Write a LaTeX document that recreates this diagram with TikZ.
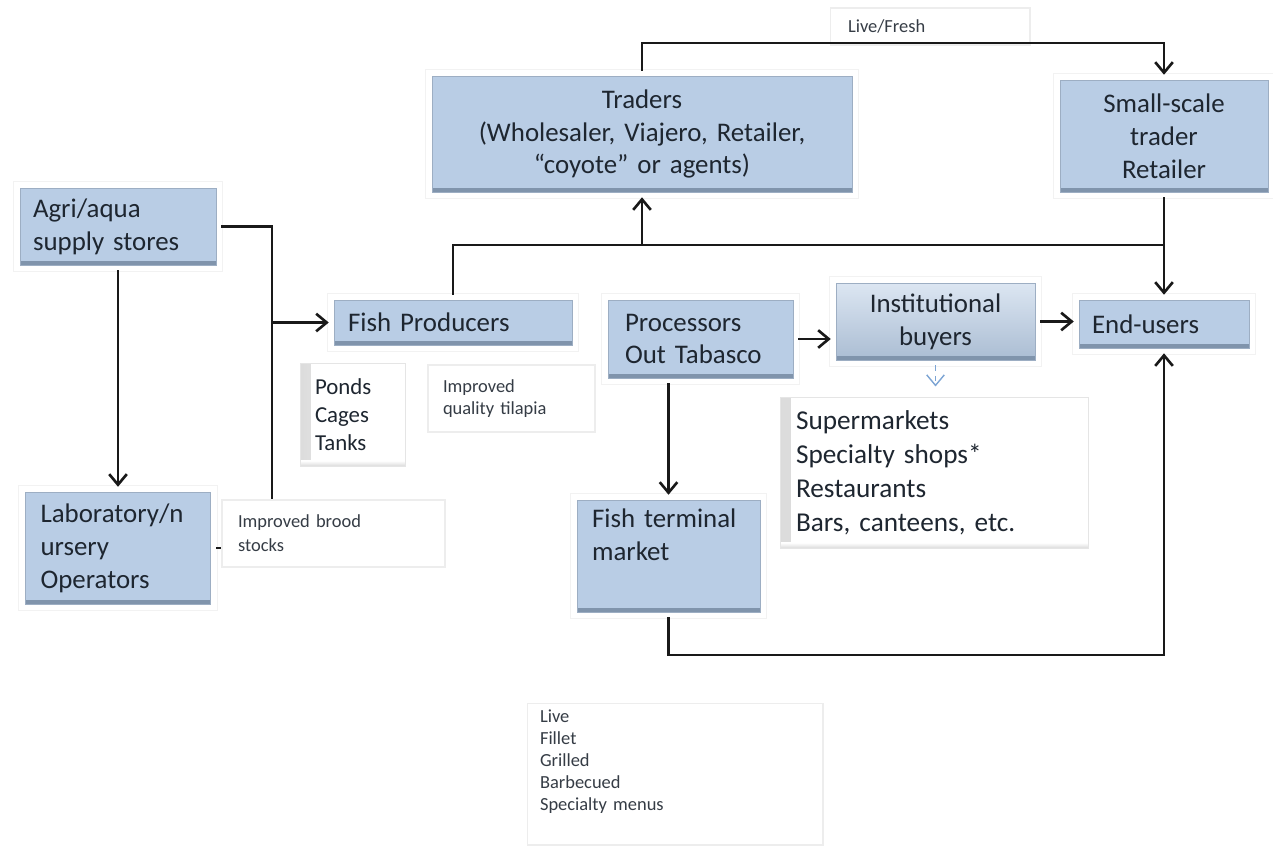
\documentclass[tikz,border=0pt]{standalone}
\usepackage{fontspec}
\setmainfont{Carlito}
\usetikzlibrary{calc,arrows.meta,positioning}
\definecolor{boxblue}{RGB}{185,205,229}
\definecolor{boxedge}{RGB}{128,148,172}
\definecolor{boxtext}{RGB}{30,38,48}
\definecolor{linkgray}{RGB}{25,25,25}
\definecolor{tipblue}{RGB}{125,165,212}
\tikzset{
  chainbox/.style={fill=boxblue, draw=boxblue!85!black, line width=0.3pt, text=boxtext,
    font=\fontsize{15.3}{18.7}\selectfont, inner ysep=0pt, outer sep=3pt,
    preaction={draw=black!5, line width=8.5pt},
    preaction={draw=white, line width=7pt},
    path picture={\fill[boxedge] ([yshift=2.2pt]path picture bounding box.south west) rectangle (path picture bounding box.south east);}},
  bevelbox/.style={chainbox, top color=boxblue!50!white, bottom color=boxblue!92!black},
  sidebox/.style={fill=white, draw=black!10, line width=0.4pt, text=boxtext, inner ysep=0pt, outer sep=3pt,
    path picture={\shade[left color=black!14, right color=white] (path picture bounding box.south west) rectangle ([xshift=6pt]path picture bounding box.north west);
      \shade[bottom color=black!14, top color=white] (path picture bounding box.south west) rectangle ([yshift=3pt]path picture bounding box.south east);}},
  notebox/.style={fill=white, draw=black!7, line width=0.6pt, text=boxtext!90!white, inner ysep=0pt,
    font=\fontsize{10.5}{13}\selectfont},
  link/.style={draw=linkgray, line width=1.5pt},
  tiplink/.style={draw=tipblue, line width=0.8pt, dashed, shorten >=3pt},
}

\begin{document}
\begin{tikzpicture}[x=0.02cm,y=-0.02cm,>={Straight Barb[length=6pt,width=10pt]}]
\useasboundingbox (0,0) rectangle (1273,846);

% boxes of the chain
\node[notebox, align=left, text width=3.28cm, inner xsep=0.36cm, minimum width=4cm, minimum height=0.74cm] (livefresh) at (930,26.5) {Live/Fresh};
\node[chainbox, align=center, text width=7.6cm, minimum width=8.4cm, minimum height=2.32cm] (traders) at (642,134) {Traders\\(Wholesaler, Viajero, Retailer,\\“coyote” or agents)};
\node[chainbox, align=center, text width=3.6cm, minimum width=4.16cm, minimum height=2.24cm] (small) at (1164,136) {Small-scale\\trader\\Retailer};
\node[chainbox, align=left, text width=3.4cm, inner xsep=0.26cm, minimum width=3.92cm, minimum height=1.54cm] (agri) at (118,226.5) {Agri/aqua\\supply stores};
\node[chainbox, align=left, text width=4.2cm, inner xsep=0.28cm, minimum width=4.76cm, minimum height=0.9cm] (fishprod) at (453,322.5) {Fish Producers};
\node[chainbox, align=left, text width=3.02cm, inner xsep=0.34cm, minimum width=3.7cm, minimum height=1.56cm] (proc) at (700.5,339) {Processors\\Out Tabasco};
\node[bevelbox, align=center, text width=3.4cm, minimum width=3.98cm, minimum height=1.54cm] (inst) at (935.5,321.5) {Institutional\\buyers};
\node[chainbox, align=left, text width=2.88cm, inner xsep=0.26cm, minimum width=3.4cm, minimum height=0.96cm] (endu) at (1164,324) {End-users};
\node[chainbox, align=left, text width=3.1cm, inner xsep=0.3cm, minimum width=3.7cm, minimum height=2.24cm] (lab) at (118,548) {Laboratory/n\\ursery\\Operators};
\node[chainbox, align=left, text width=3.06cm, inner xsep=0.3cm, minimum width=3.66cm, minimum height=2.24cm] (fishterm) at (668.5,556) {Fish terminal\\market\\ \strut};

% side notes
\node[sidebox, align=left, text width=1.5cm, inner xsep=0.3cm, minimum width=2.1cm, minimum height=2.06cm, font=\fontsize{13}{15.9}\selectfont] (ponds) at (352.5,414.5) {Ponds\\Cages\\Tanks};
\node[notebox, align=left, text width=2.74cm, inner xsep=0.3cm, minimum width=3.34cm, minimum height=1.34cm] (tilapia) at (511.5,398.5) {Improved\\quality tilapia};
\node[sidebox, align=left, text width=5.52cm, inner xsep=0.32cm, minimum width=6.16cm, minimum height=3.02cm, font=\fontsize{15.5}{19.3}\selectfont] (outlets) at (934,472.5) {Supermarkets\\Specialty shops*\\Restaurants\\Bars, canteens, etc.};
\node[notebox, align=left, text width=5.4cm, inner xsep=0.26cm, minimum width=5.92cm, minimum height=2.84cm, font=\fontsize{10.5}{12.5}\selectfont] (products) at (675,774) {Live\\Fillet\\Grilled\\Barbecued\\Specialty menus\\ \strut};

% connectors
\coordinate (fresh) at (1164,43);
\draw[link,->] (traders.north) |- (fresh) -- (small.north);
\coordinate (hub) at (642,245);
\coordinate (junc) at (1164,245);
\draw[link] (fishprod.north) |- (junc);
\draw[link,->] (hub) -- (traders.south);
\draw[link,->] (small.south) -- (endu.north);

\coordinate (railtop) at (272,226.5);
\coordinate (railbot) at (272,548);
\draw[link] (agri.east) -- (railtop) -- (railbot) -- (lab.east);
\draw[link,->] (railtop |- fishprod.west) -- (fishprod.west);
\draw[link,->] (agri.south) -- (lab.north);

\draw[link,->] (proc.east) -- (proc.east -| inst.west);
\draw[link,->] (inst.east) -- (inst.east -| endu.west);
\draw[link,->] (fishterm.north |- proc.south) -- (fishterm.north);
\draw[tiplink,->] (inst.south) -- (inst.south |- outlets.north);
\coordinate (lowrail) at (1164,655);
\draw[link,->] (fishterm.south) |- (lowrail) -- (endu.south);

% note box over the rail
\node[notebox, align=left, text width=3.82cm, inner xsep=0.32cm, minimum width=4.46cm, minimum height=1.34cm, font=\fontsize{10.5}{13.6}\selectfont] (brood) at (333.5,533.5) {Improved brood\\stocks};
\end{tikzpicture}
\end{document}
